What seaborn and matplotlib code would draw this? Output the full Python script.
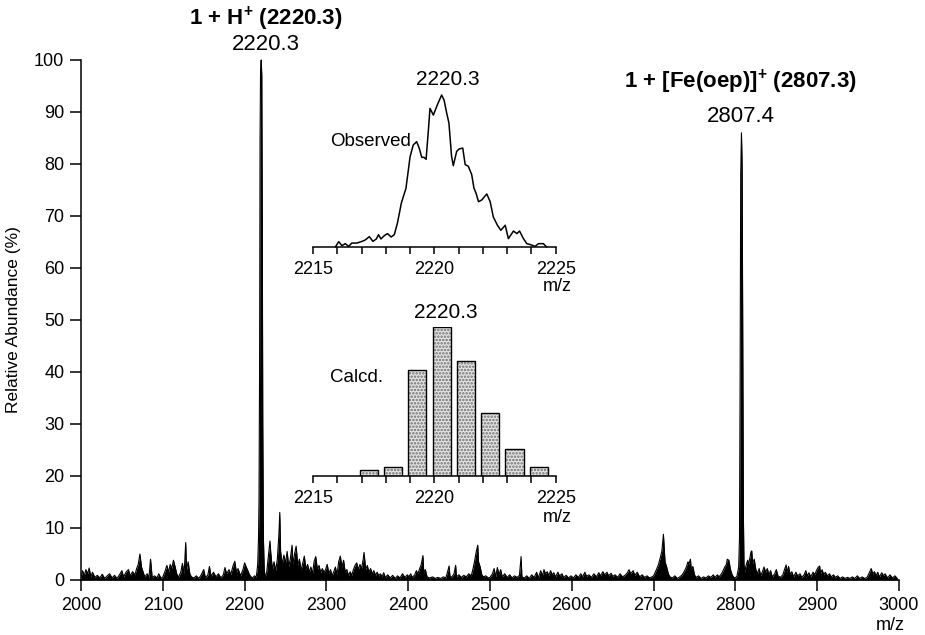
import numpy as np
import pandas as pd
import seaborn as sns
import matplotlib.pyplot as plt

# main spectrum: (m/z, relative abundance %)
spectrum = [
    (2000, 0.5), (2002, 1.8), (2004, 0.8), (2006, 2.0), (2008, 1.2), (2010, 2.3), (2012, 0.6), (2014, 1.5),
    (2017, 0.5), (2020, 0.9), (2023, 0.4), (2026, 1.1), (2029, 0.3), (2032, 0.8), (2035, 1.2), (2038, 0.4),
    (2041, 0.9), (2044, 0.3), (2047, 1.0), (2050, 1.8), (2052, 0.6), (2055, 1.5), (2058, 2.0), (2060, 0.8),
    (2063, 1.6), (2066, 1.0), (2068, 2.2), (2070, 3.0), (2072, 5.0), (2074, 2.5), (2076, 1.5), (2078, 0.6),
    (2081, 1.2), (2083, 0.4), (2085, 4.0), (2087, 0.5), (2090, 0.8), (2093, 0.4), (2095, 1.2), (2098, 0.3),
    (2100, 0.6), (2103, 1.8), (2105, 2.8), (2107, 1.5), (2109, 3.0), (2111, 2.2), (2113, 3.8), (2115, 2.6),
    (2117, 1.2), (2119, 0.5), (2122, 1.5), (2124, 3.2), (2126, 1.0), (2128, 7.2), (2129, 2.0), (2131, 3.5),
    (2133, 1.2), (2135, 0.6), (2138, 0.4), (2141, 0.8), (2144, 0.3), (2147, 1.0), (2150, 2.0), (2152, 0.5),
    (2155, 0.9), (2157, 2.6), (2159, 0.7), (2162, 1.5), (2165, 0.6), (2168, 1.2), (2171, 0.4), (2174, 1.0),
    (2176, 2.4), (2178, 1.2), (2181, 2.0), (2183, 1.0), (2186, 2.8), (2188, 3.6), (2190, 1.5), (2192, 2.2),
    (2195, 0.8), (2198, 2.0), (2200, 3.3), (2202, 2.5), (2204, 1.8), (2206, 1.0), (2208, 0.6), (2210, 0.4),
    (2212, 0.8), (2214, 0.5),
    (2215, 1.5), (2216, 3.0), (2217, 8.0), (2217.6, 15.0), (2218.3, 40.0), (2218.9, 85.0), (2219.5, 98.0),
    (2220.3, 100.0), (2221.0, 97.0), (2221.6, 70.0), (2222.2, 30.0), (2223, 8.0), (2224, 2.0), (2225, 0.5),
    (2227, 1.5), (2229, 4.5), (2230, 6.0), (2231, 7.5), (2232, 5.2), (2234, 2.0), (2236, 3.5), (2238, 1.8),
    (2240, 4.0), (2242, 9.0), (2243, 13.0), (2244, 5.5), (2246, 3.0), (2248, 4.8), (2250, 3.2), (2252, 5.5),
    (2254, 2.5), (2256, 4.2), (2258, 6.7), (2259, 3.0), (2261, 5.0), (2263, 6.5), (2265, 2.8), (2267, 4.0),
    (2269, 1.8), (2271, 3.2), (2273, 4.6), (2275, 2.0), (2277, 3.0), (2279, 1.5), (2281, 2.5), (2283, 1.2),
    (2285, 3.6), (2287, 4.5), (2289, 2.0), (2291, 2.8), (2293, 1.4), (2295, 2.2), (2297, 1.5), (2299, 2.0),
    (2301, 3.0), (2303, 1.2), (2305, 2.0), (2307, 0.8), (2309, 1.6), (2311, 2.5), (2313, 1.0), (2315, 3.5),
    (2317, 4.6), (2319, 2.5), (2321, 3.8), (2323, 1.5), (2325, 2.0), (2327, 0.8), (2329, 1.6), (2331, 0.9),
    (2333, 2.0), (2335, 2.8), (2337, 3.3), (2339, 2.0), (2341, 3.0), (2343, 2.2), (2345, 4.0), (2346, 5.3),
    (2348, 2.0), (2350, 2.8), (2352, 1.5), (2354, 2.2), (2356, 1.2), (2358, 1.8), (2360, 0.9), (2362, 1.5),
    (2364, 0.8), (2366, 1.2), (2368, 0.6), (2370, 1.4), (2372, 0.5), (2375, 1.0), (2378, 0.4), (2381, 0.9),
    (2384, 0.3), (2387, 0.8), (2390, 0.4), (2393, 1.2), (2396, 0.5), (2399, 1.0),
    (2401, 0.6), (2403, 1.2), (2405, 0.5), (2408, 1.0), (2410, 1.8), (2412, 1.2), (2414, 2.2), (2416, 3.0),
    (2418, 4.7), (2419, 1.5), (2421, 2.0), (2423, 0.6), (2426, 0.4), (2430, 0.6), (2433, 0.3), (2436, 0.5),
    (2440, 0.3), (2443, 0.6), (2446, 0.4), (2448, 1.5), (2450, 2.7), (2451, 0.8), (2453, 0.5), (2456, 1.2),
    (2458, 2.8), (2459, 0.6), (2462, 1.0), (2465, 0.5), (2468, 0.9), (2471, 0.6), (2474, 1.2), (2477, 0.8),
    (2479, 2.0), (2481, 3.5), (2483, 5.3), (2485, 6.7), (2486, 3.5), (2488, 2.5), (2490, 1.0), (2492, 0.6),
    (2495, 0.8), (2498, 0.4),
    (2500, 0.5), (2503, 1.2), (2505, 2.2), (2507, 0.6), (2509, 2.4), (2511, 1.0), (2513, 2.0), (2515, 0.6),
    (2518, 1.2), (2521, 0.5), (2524, 1.0), (2527, 0.4), (2530, 0.8), (2533, 0.5), (2536, 0.9), (2538, 4.5),
    (2539, 0.6), (2542, 0.4), (2545, 0.8), (2548, 0.3), (2551, 1.0), (2554, 0.5), (2557, 1.5), (2559, 0.4),
    (2562, 1.8), (2564, 0.8), (2566, 2.0), (2568, 1.2), (2570, 1.6), (2572, 0.8), (2574, 1.8), (2576, 1.0),
    (2578, 1.4), (2580, 0.6), (2583, 1.5), (2585, 0.8), (2588, 1.2), (2590, 0.5), (2593, 0.9), (2596, 0.4),
    (2599, 0.8),
    (2602, 0.4), (2605, 1.0), (2608, 0.5), (2611, 1.2), (2613, 0.6), (2616, 1.5), (2618, 0.7), (2621, 1.0),
    (2624, 0.5), (2627, 1.2), (2630, 0.6), (2633, 1.4), (2635, 0.8), (2638, 1.6), (2640, 1.0), (2643, 1.5),
    (2645, 0.8), (2648, 1.3), (2650, 0.7), (2653, 1.0), (2656, 0.5), (2659, 1.2), (2662, 0.6), (2665, 0.9),
    (2668, 1.4), (2670, 2.0), (2672, 1.2), (2675, 1.8), (2677, 0.9), (2680, 1.5), (2683, 0.6), (2686, 1.0),
    (2689, 0.5), (2692, 0.8), (2695, 0.4), (2698, 0.6),
    (2700, 0.8), (2702, 1.5), (2704, 2.2), (2706, 3.0), (2708, 4.2), (2710, 5.5), (2711, 7.0), (2712, 8.8),
    (2713, 6.0), (2714, 3.5), (2716, 2.5), (2718, 1.2), (2720, 0.6), (2723, 0.4), (2726, 0.8), (2729, 0.3),
    (2732, 0.6), (2735, 1.0), (2738, 1.8), (2740, 2.5), (2742, 3.5), (2743, 3.0), (2745, 4.0), (2746, 2.0),
    (2748, 2.6), (2750, 1.0), (2752, 0.5), (2755, 0.8), (2758, 0.3), (2761, 0.6), (2764, 0.4), (2767, 0.8),
    (2770, 0.5), (2773, 1.0), (2775, 0.5), (2778, 1.0), (2780, 0.6), (2783, 1.2), (2785, 1.8), (2787, 2.5),
    (2789, 3.0), (2790, 4.0), (2792, 3.8), (2794, 2.0), (2796, 1.0), (2798, 0.5), (2800, 0.4), (2802, 0.8),
    (2804, 2.5),
    (2805, 8.0), (2805.8, 40.0), (2806.5, 78.0), (2807.4, 86.0), (2808.2, 80.0), (2809, 45.0), (2809.8, 12.0),
    (2810.5, 3.0),
    (2811.5, 1.5), (2813, 2.8), (2815, 3.8), (2816, 3.0), (2818, 4.5), (2819, 5.4), (2820, 5.6), (2821, 3.2),
    (2823, 4.0), (2825, 2.0), (2827, 1.2), (2829, 2.2), (2831, 0.8), (2833, 1.6), (2835, 2.5), (2837, 1.5),
    (2839, 2.2), (2841, 1.0), (2843, 1.8), (2845, 0.6), (2848, 1.2), (2850, 2.0), (2852, 0.8), (2855, 0.5),
    (2858, 1.0), (2860, 2.0), (2862, 2.9), (2863, 1.5), (2865, 2.6), (2867, 1.0), (2869, 1.6), (2871, 0.6),
    (2874, 1.5), (2876, 0.8), (2879, 1.2), (2881, 0.5), (2884, 1.0), (2886, 1.8), (2888, 0.8), (2890, 1.4),
    (2892, 0.6), (2895, 1.5), (2897, 1.0), (2899, 1.8),
    (2901, 2.4), (2903, 2.7), (2904, 1.2), (2906, 2.0), (2908, 1.0), (2910, 1.5), (2912, 0.8), (2915, 1.2),
    (2917, 0.6), (2920, 1.0), (2922, 0.5), (2925, 0.8), (2928, 0.3), (2931, 0.6), (2934, 0.3), (2937, 0.5),
    (2940, 0.3), (2943, 0.6), (2946, 0.3), (2949, 0.8), (2952, 0.3), (2955, 0.6), (2958, 0.3), (2961, 0.5),
    (2964, 1.5), (2966, 2.2), (2968, 1.2), (2970, 1.6), (2972, 0.8), (2974, 1.5), (2976, 0.6), (2979, 1.4),
    (2981, 0.8), (2983, 1.2), (2986, 0.4), (2989, 1.0), (2992, 0.4), (2995, 0.8), (2998, 0.3),
]

# observed isotope envelope (inset, top)
obs_mz = [2215.92, 2216.06, 2216.19, 2216.33, 2216.47, 2216.60, 2216.81, 2217.02, 2217.15, 2217.32,
          2217.47, 2217.61, 2217.70, 2217.80, 2217.94, 2218.07, 2218.22, 2218.35, 2218.48, 2218.64,
          2218.83, 2219.00, 2219.13, 2219.27, 2219.38, 2219.48, 2219.57, 2219.66, 2219.75, 2219.82,
          2219.96, 2220.12, 2220.30, 2220.40, 2220.51, 2220.60, 2220.71, 2220.78, 2220.92, 2221.02,
          2221.17, 2221.27, 2221.40, 2221.54, 2221.63, 2221.72, 2221.82, 2221.95, 2222.16, 2222.30,
          2222.43, 2222.60, 2222.74, 2222.92, 2223.05, 2223.26, 2223.40, 2223.51, 2223.67, 2223.81,
          2223.97, 2224.15, 2224.29, 2224.49, 2224.63]
obs_abund = [0.0, 3.5, 0.9, 2.2, 0.4, 2.6, 2.6, 3.7, 4.6, 6.8,
             3.7, 5.3, 8.1, 5.3, 7.5, 8.8, 6.6, 8.1, 15.8, 28.9,
             38.6, 59.4, 67.1, 69.3, 64.9, 59.0, 59.0, 57.7, 75.9, 91.2,
             86.8, 93.4, 100.0, 96.7, 88.0, 81.6, 59.6, 53.5, 62.9, 64.5,
             65.1, 54.2, 53.1, 47.6, 38.8, 35.3, 29.8, 30.9, 34.9, 29.8,
             19.7, 14.3, 11.0, 14.3, 5.5, 10.5, 8.8, 10.5, 5.5, 2.2,
             1.5, 0.4, 2.2, 2.2, 0.0]

# calculated isotope pattern (inset, bottom)
calc_mz = [2217.3, 2218.3, 2219.3, 2220.3, 2221.3, 2222.3, 2223.3, 2224.3]
calc_abund = [4, 6, 71, 100, 77, 42, 18, 6]

W, H = 925, 635

sns.set_style("ticks")
plt.rcParams['font.family'] = ['Liberation Sans', 'DejaVu Sans']
plt.rcParams['mathtext.fontset'] = 'custom'
plt.rcParams['mathtext.rm'] = 'Liberation Sans:bold'
plt.rcParams['mathtext.it'] = 'Liberation Sans:bold'
plt.rcParams['mathtext.bf'] = 'Liberation Sans:bold'
plt.rcParams['hatch.linewidth'] = 1.2
for key in ['text.color', 'axes.labelcolor', 'xtick.color', 'ytick.color', 'axes.edgecolor']:
    plt.rcParams[key] = 'black'

fig = plt.figure(figsize=(W / 100, H / 100), dpi=100)


def px(x, y):
    return x / W, 1 - y / H


# ---- main spectrum ----
ax = fig.add_axes([81 / W, 55 / H, 818 / W, 525.2 / H])
spec = pd.DataFrame(spectrum, columns=["mz", "abund"])
ax.fill_between(spec["mz"], 0, spec["abund"], color="black", lw=0)
sns.lineplot(data=spec, x="mz", y="abund", ax=ax, color="black", lw=0.8,
             estimator=None, sort=False)
ax.set_xlim(2000, 3000)
ax.set_ylim(0, 101)
ax.set_xticks(range(2000, 3001, 100))
ax.set_yticks(range(0, 101, 10))
ax.tick_params(direction="out", length=8, width=1.1, labelsize=13, pad=4, color="black")
sns.despine(ax=ax)
ax.spines["left"].set_bounds(0, 100)
for s in ["left", "bottom"]:
    ax.spines[s].set_linewidth(1.1)
ax.set_xlabel("")
ax.set_ylabel("")
fig.text(*px(14, 320), "Relative Abundance (%)", rotation=90, ha="center", va="center", fontsize=12.5)
fig.text(*px(890, 626), "m/z", ha="center", va="center", fontsize=13)

ax.text(2226, 107.9, r"1 + H$^{+}$ (2220.3)", ha="center", va="center", fontsize=16, fontweight="bold")
ax.text(2226, 102.9, "2220.3", ha="center", va="center", fontsize=16)
ax.text(2806, 95.8, r"1 + [Fe(oep)]$^{+}$ (2807.3)", ha="center", va="center", fontsize=16, fontweight="bold")
ax.text(2807.2, 89.2, "2807.4", ha="center", va="center", fontsize=16)


def style_inset(a):
    a.set_xlim(2215, 2225)
    a.set_ylim(0, 100)
    a.set_xticks([2215, 2220, 2225])
    a.set_xticks(range(2215, 2226), minor=True)
    a.tick_params(axis="x", which="both", direction="out", length=5, width=1.1,
                  labelsize=13, pad=5)
    a.set_yticks([])
    for s in ["left", "top", "right"]:
        a.spines[s].set_visible(False)
    a.spines["bottom"].set_linewidth(1.1)
    a.patch.set_alpha(0)
    a.set_xlabel("")
    a.set_ylabel("")


# ---- observed inset ----
ax1 = fig.add_axes([313 / W, (H - 247) / H, 242.7 / W, 152 / H])
obs = pd.DataFrame({"mz": obs_mz, "abund": obs_abund})
sns.lineplot(data=obs, x="mz", y="abund", ax=ax1, color="black", lw=1.1,
             estimator=None, sort=False)
style_inset(ax1)
ax1.lines[0].set_clip_on(False)
ax1.text(2220.56, 110.5, "2220.3", ha="center", va="center", fontsize=15)
fig.text(*px(330, 142), "Observed", ha="left", va="center", fontsize=13.5)
fig.text(*px(557, 287), "m/z", ha="center", va="center", fontsize=13)

# ---- calculated inset ----
ax2 = fig.add_axes([313 / W, (H - 476) / H, 242.7 / W, 149 / H])
ax2.bar(calc_mz, calc_abund, width=0.75, facecolor="#e4e4e4", hatch=".....",
        edgecolor="#6e6e6e", lw=0)
ax2.bar(calc_mz, calc_abund, width=0.75, facecolor="none", edgecolor="black", lw=1.0)
style_inset(ax2)
ax2.text(2220.48, 110, "2220.3", ha="center", va="center", fontsize=15)
fig.text(*px(330, 378), "Calcd.", ha="left", va="center", fontsize=13.5)
fig.text(*px(557, 518), "m/z", ha="center", va="center", fontsize=13)

fig.savefig("out.png", dpi=100)
